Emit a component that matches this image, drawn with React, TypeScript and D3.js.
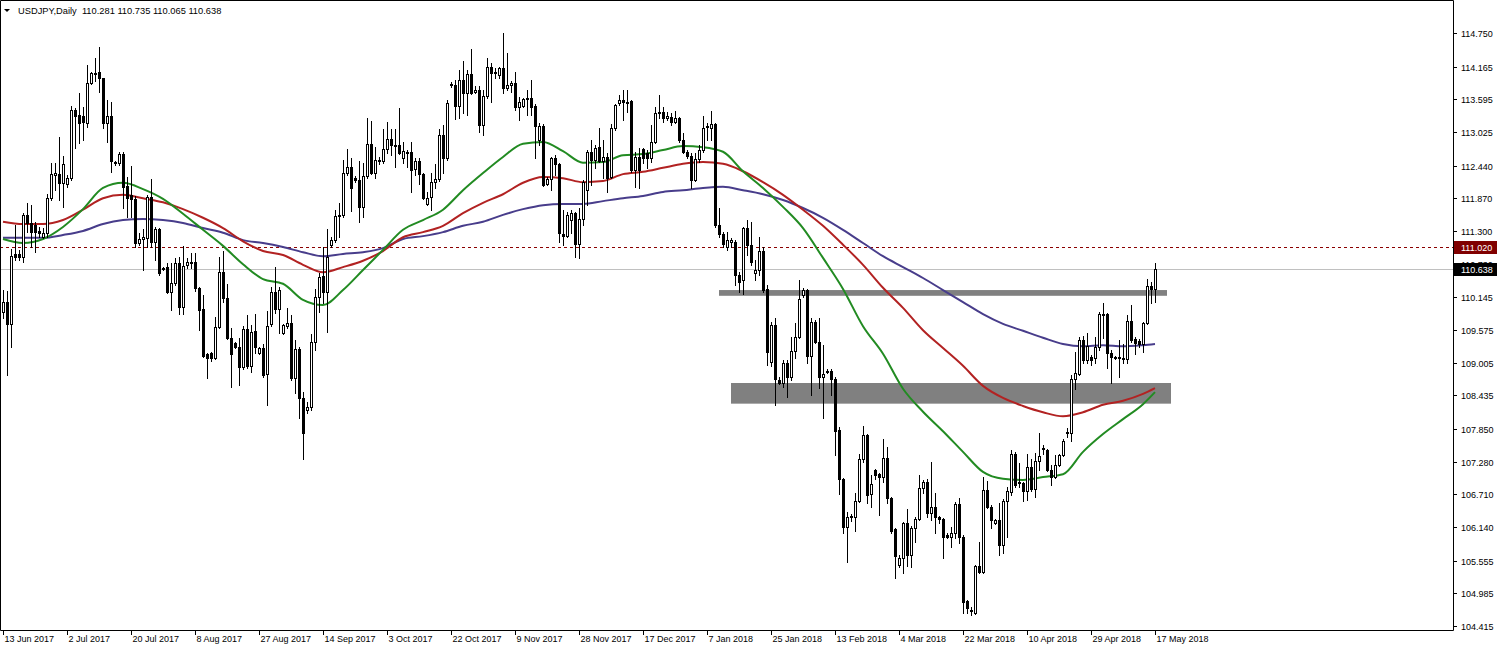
import React from "react";
import * as d3 from "d3";

// ---- data (USDJPY daily) ----
const OPEN = [
  109.89,110.06,109.68,110.90,110.90,110.85,111.58,111.44,111.40,111.30,
  111.20,111.27,111.87,112.28,112.29,112.14,112.12,112.22,113.41,113.32,
  113.30,113.18,113.88,114.05,114.07,113.97,113.18,113.30,112.49,112.49,
  112.64,112.08,111.93,111.86,111.09,111.16,111.18,111.89,111.11,111.33,
  110.65,110.67,110.24,110.39,110.74,109.97,110.71,110.76,110.76,110.31,
  109.94,109.16,109.17,109.09,109.63,110.59,110.13,109.43,109.35,109.28,
  108.93,109.59,108.94,109.56,109.17,109.26,108.81,109.68,110.24,109.94,
  109.52,109.64,109.70,108.74,109.24,108.39,108.18,108.23,109.37,110.15,
  110.52,110.24,111.06,111.14,111.56,111.58,112.31,112.42,112.22,112.19,
  111.72,112.26,112.82,112.31,112.52,112.52,112.73,112.90,112.80,112.80,
  112.57,112.68,112.68,112.38,112.52,112.29,111.77,111.89,112.15,112.21,
  112.97,112.57,113.84,113.84,113.48,113.93,113.70,114.04,113.72,113.76,
  113.15,113.65,114.16,114.07,114.02,114.14,113.79,113.84,113.88,113.46,
  113.48,113.62,113.62,113.48,112.89,113.13,112.12,112.21,112.57,112.47,
  111.25,111.21,111.49,111.61,111.07,111.51,112.01,112.68,112.54,112.76,
  112.52,112.59,112.24,113.09,113.53,113.58,113.55,113.56,112.36,112.59,
  112.73,112.66,112.57,112.85,113.36,113.37,113.27,113.29,113.20,113.27,
  112.89,112.68,112.61,112.19,112.55,112.71,113.11,113.09,113.16,111.40,
  111.25,111.02,111.11,111.11,110.53,110.45,111.35,111.06,110.57,110.62,
  110.95,110.29,109.02,109.66,108.70,108.65,109.00,108.75,109.21,109.45,
  110.18,110.27,109.12,109.71,109.37,108.75,108.86,108.86,108.72,107.83,
  106.98,106.14,106.32,106.32,106.59,107.33,107.74,106.71,107.13,107.06,
  107.01,107.34,106.65,106.11,105.48,105.60,106.21,105.65,106.12,106.28,
  106.82,106.93,106.39,106.49,106.32,106.28,106.00,105.97,106.04,106.54,
  105.97,104.85,104.70,104.64,105.46,105.36,106.79,106.49,106.21,106.26,
  105.83,106.59,106.75,107.41,106.93,106.91,106.77,107.19,106.80,107.29,
  107.50,107.48,107.13,107.01,107.22,107.40,107.78,107.78,108.72,108.81,
  109.40,109.05,109.10,109.09,109.28,109.85,109.85,109.17,109.10,109.10,
  109.09,109.07,109.73,109.42,109.38,109.33,109.70,110.34,110.281,
];
const HIGH = [
  110.27,110.25,110.99,111.40,110.97,111.61,111.79,111.75,111.46,111.37,
  111.35,111.94,112.49,112.49,112.94,112.61,112.28,113.48,113.44,113.70,
  113.46,114.19,114.07,114.31,114.51,113.97,113.58,113.55,112.52,112.68,
  112.68,112.24,112.43,111.91,111.27,111.33,111.93,112.21,111.37,111.35,
  110.67,110.74,110.74,110.83,110.85,111.04,110.83,110.92,110.92,110.32,
  110.18,109.18,109.19,109.80,110.85,110.95,110.38,109.61,109.37,109.43,
  109.64,109.84,109.66,109.85,109.28,109.33,109.91,110.32,110.67,110.32,
  109.68,109.96,109.84,109.40,109.28,108.49,108.32,109.50,110.29,110.57,
  111.02,111.33,111.19,111.67,111.79,112.54,112.73,112.57,112.26,112.52,
  112.49,113.27,113.22,112.76,112.59,113.08,113.20,113.08,113.08,113.44,
  112.85,112.71,112.85,112.57,112.57,112.31,111.98,112.31,112.47,113.08,
  113.15,113.58,113.90,113.93,114.11,114.26,114.11,114.47,113.83,113.83,
  113.76,114.31,114.23,114.14,114.16,114.75,114.40,113.91,114.07,113.63,
  113.62,113.76,113.93,113.51,113.18,113.16,112.24,112.59,112.62,112.49,
  111.67,111.63,111.67,111.63,111.70,112.19,112.71,112.89,112.80,113.09,
  112.89,112.66,113.16,113.51,113.67,113.76,113.76,113.58,112.68,112.75,
  112.75,112.71,113.15,113.46,113.67,113.46,113.37,113.36,113.39,113.29,
  113.01,112.71,112.66,112.66,112.80,113.30,113.18,113.39,113.18,111.70,
  111.28,111.28,111.18,111.14,110.59,111.37,111.49,111.46,110.79,111.19,
  111.02,110.36,109.71,109.78,108.75,109.05,109.05,109.45,109.70,110.45,
  110.31,110.29,109.78,109.75,109.78,109.31,108.89,108.89,108.75,107.88,
  107.00,106.40,106.37,106.73,107.41,107.90,107.76,107.05,107.15,107.08,
  107.67,107.53,106.67,106.13,105.65,106.23,106.46,106.16,106.32,107.05,
  106.96,106.98,107.27,106.73,106.33,106.30,106.04,106.14,106.58,106.65,
  106.00,104.87,104.75,105.48,105.88,107.01,106.94,106.52,106.28,106.56,
  106.63,106.84,107.48,107.45,107.26,106.93,107.41,107.33,107.43,107.78,
  107.57,107.50,107.22,107.40,107.41,107.67,107.87,108.79,109.19,109.45,
  109.47,109.52,109.14,109.45,109.89,110.04,109.87,109.23,109.12,109.40,
  109.33,109.84,110.01,109.45,109.42,109.71,110.46,110.41,110.735,
];
const LOW = [
  109.78,108.79,109.28,110.79,110.79,110.76,111.28,111.02,110.93,111.20,
  111.18,111.20,111.84,112.01,111.84,111.72,112.07,112.19,112.75,112.83,
  112.89,113.11,113.86,113.91,113.72,113.10,112.85,112.33,112.45,112.45,
  111.70,111.54,111.54,111.02,111.06,110.62,111.02,111.02,110.79,110.53,
  110.62,110.22,109.92,110.36,109.85,109.85,110.65,110.65,110.25,109.57,
  109.10,108.74,109.03,109.07,109.61,110.06,109.42,108.58,109.26,108.62,
  108.89,108.91,108.84,109.17,109.15,108.75,108.27,109.64,109.87,109.52,
  109.50,109.61,108.70,108.48,108.04,107.33,108.13,108.18,109.23,109.89,
  110.04,109.54,111.02,111.11,111.19,111.54,112.28,111.65,112.15,111.46,
  111.54,112.22,112.29,112.22,112.47,112.49,112.66,112.62,112.42,112.64,
  112.49,112.42,111.98,112.28,112.12,111.85,111.75,111.67,112.05,112.17,
  112.31,112.54,113.81,113.25,113.27,113.36,113.32,113.69,113.70,113.03,
  112.97,113.62,113.55,113.97,113.97,113.70,113.76,113.72,113.41,113.23,
  113.46,113.32,113.32,112.57,112.80,112.08,112.10,112.01,112.28,111.11,
  111.06,111.19,111.27,110.85,110.83,111.40,111.75,112.10,112.40,112.50,
  112.22,111.98,112.22,113.06,113.49,113.23,113.37,112.33,112.07,112.05,
  112.49,112.40,112.50,112.83,113.27,113.20,113.23,113.15,113.18,112.85,
  112.66,112.57,112.05,112.17,112.50,112.68,112.89,112.89,111.37,111.20,
  111.02,110.97,111.02,110.36,110.24,110.20,110.88,110.71,110.45,110.53,
  110.24,108.96,108.95,108.27,108.63,108.58,108.41,108.70,109.09,109.43,
  110.15,109.00,108.44,109.35,108.56,108.04,108.82,108.44,107.40,106.72,
  106.04,105.53,106.25,106.07,106.58,107.27,106.56,106.49,106.98,106.35,
  106.92,106.56,106.04,105.25,105.44,105.34,105.46,105.44,105.88,106.26,
  106.73,106.32,106.26,106.04,106.21,105.60,105.95,105.79,105.95,105.86,
  104.64,104.64,104.61,104.62,105.34,105.34,106.47,106.12,106.19,105.65,
  105.69,105.97,106.70,106.84,106.84,106.59,106.61,106.77,106.66,107.13,
  107.41,107.12,106.87,106.99,107.20,107.38,107.71,107.64,108.55,108.79,
  109.00,109.00,108.96,109.00,109.23,109.43,108.91,108.65,109.07,108.75,
  109.00,109.00,109.37,109.16,109.28,109.19,109.68,110.04,110.065,
];
const CLOSE = [
  110.06,109.68,110.86,110.85,110.85,111.58,111.44,111.28,111.28,111.27,
  111.27,111.87,112.29,112.31,112.14,112.47,112.22,113.41,113.30,113.18,
  113.20,113.88,114.05,114.04,113.97,113.18,113.30,112.52,112.50,112.64,
  112.07,111.87,111.86,111.09,111.16,111.19,111.89,111.11,111.33,110.57,
  110.64,110.24,110.39,110.74,109.97,110.69,110.76,110.74,110.31,109.92,
  109.12,109.09,109.09,109.63,110.59,110.13,109.43,109.16,109.28,108.93,
  109.59,108.94,109.54,109.28,109.26,108.79,109.64,110.24,109.94,110.27,
  109.66,109.70,108.74,109.24,108.39,107.78,108.23,109.37,110.15,110.50,
  110.24,110.85,111.14,111.56,111.58,112.31,112.42,112.05,112.19,111.72,
  112.26,112.82,112.31,112.54,112.54,112.73,112.90,112.80,112.78,112.66,
  112.69,112.66,112.36,112.52,112.29,111.87,111.87,112.15,112.21,112.97,
  112.57,113.53,113.86,113.48,113.93,113.70,114.04,113.70,113.76,113.15,
  113.65,114.16,114.05,114.05,114.14,113.79,113.84,113.88,113.46,113.55,
  113.60,113.60,113.46,113.13,113.13,112.10,112.21,112.57,112.47,111.27,
  111.21,111.58,111.61,111.07,111.51,112.15,112.68,112.54,112.75,112.52,
  112.59,112.22,113.09,113.49,113.58,113.55,113.53,112.36,112.59,112.36,
  112.57,112.57,112.85,113.36,113.37,113.27,113.30,113.20,113.27,112.89,
  112.68,112.61,112.19,112.55,112.71,113.09,113.13,113.16,111.40,111.25,
  111.07,111.14,111.14,110.53,110.41,111.35,111.06,110.76,110.62,110.95,
  110.27,109.19,109.66,108.72,108.65,109.00,108.75,109.21,109.45,110.11,
  110.27,109.12,109.71,109.37,108.75,108.81,108.84,108.72,107.81,106.98,
  106.14,106.32,106.33,106.59,107.33,107.74,106.70,106.89,107.05,107.01,
  107.34,106.65,106.07,105.64,105.60,106.21,105.65,106.12,106.28,106.82,
  106.93,106.39,106.49,106.32,106.28,105.97,105.97,106.04,106.54,105.97,
  104.83,104.73,104.68,105.46,105.36,106.79,106.49,106.26,106.26,105.83,
  106.59,106.77,107.41,106.87,106.91,106.77,107.19,106.80,107.29,107.38,
  107.52,107.13,107.01,107.22,107.40,107.64,107.80,108.72,108.82,109.40,
  109.05,109.30,109.05,109.28,109.85,109.84,109.17,109.10,109.09,109.09,
  109.07,109.73,109.40,109.35,109.33,109.70,110.34,110.29,110.638,
];

// moving averages, read every 5 bars (bar 0,5,...,285) plus the last bar 288
const MA_FAST = [
  111.16,111.09,111.16,111.37,111.68,112.05,112.14,112.03,111.86,111.60,
  111.32,111.04,110.72,110.46,110.38,110.10,110.01,110.27,110.62,110.97,
  111.32,111.49,111.67,112.01,112.31,112.59,112.82,112.85,112.69,112.49,
  112.50,112.62,112.64,112.71,112.78,112.76,112.68,112.34,112.05,111.72,
  111.35,110.83,110.29,109.64,109.16,108.55,108.15,107.81,107.45,107.10,
  106.98,106.96,107.01,107.06,107.45,107.76,108.02,108.28,108.49,
];
const MA_MID = [
  111.46,111.42,111.42,111.49,111.67,111.87,111.93,111.87,111.80,111.68,
  111.53,111.35,111.12,110.95,110.88,110.71,110.58,110.67,110.78,110.95,
  111.19,111.28,111.39,111.61,111.79,111.94,112.14,112.24,112.22,112.15,
  112.17,112.29,112.33,112.40,112.47,112.50,112.47,112.34,112.15,111.93,
  111.67,111.39,111.06,110.71,110.31,109.96,109.57,109.26,108.95,108.60,
  108.39,108.25,108.14,108.07,108.14,108.27,108.34,108.46,108.56,
];
const MA_SLOW = [
  111.18,111.18,111.18,111.23,111.30,111.42,111.49,111.51,111.49,111.44,
  111.35,111.27,111.14,111.09,111.02,110.93,110.86,110.90,110.93,111.00,
  111.16,111.21,111.28,111.39,111.46,111.58,111.68,111.75,111.77,111.77,
  111.82,111.87,111.91,111.98,112.01,112.05,112.07,112.01,111.94,111.84,
  111.70,111.53,111.32,111.09,110.86,110.67,110.48,110.27,110.06,109.85,
  109.68,109.56,109.44,109.33,109.29,109.31,109.29,109.31,109.33,
];
const MA_BARS = [...d3.range(0, 286, 5), 288];

const PRICE_TICKS = [
  114.75, 114.165, 113.595, 113.025, 112.44, 111.87, 111.3, 110.73, 110.145,
  109.575, 109.005, 108.435, 107.85, 107.28, 106.71, 106.14, 105.555, 104.985, 104.415,
];
const DATE_LABELS = [
  "13 Jun 2017", "2 Jul 2017", "20 Jul 2017", "8 Aug 2017", "27 Aug 2017",
  "14 Sep 2017", "3 Oct 2017", "22 Oct 2017", "9 Nov 2017", "28 Nov 2017",
  "17 Dec 2017", "7 Jan 2018", "25 Jan 2018", "13 Feb 2018", "4 Mar 2018",
  "22 Mar 2018", "10 Apr 2018", "29 Apr 2018", "17 May 2018",
];
const DATE_STEP = 16; // bars between date labels

const ZONE_FROM = [179, 182];
const ZONE_TO = [291, 292];
const ZONE_HI = [110.27, 108.65];
const ZONE_LO = [110.17, 108.29];

const LEVEL_DASHED = 111.02;
const LAST_PRICE = CLOSE[CLOSE.length - 1];

const FONT = "'Liberation Sans', Arial, sans-serif";

export default function App() {
  const W = 1497;
  const H = 650;
  const plotR = 1453;
  const plotB = 630;
  const n = CLOSE.length;

  const x = d3.scaleLinear().domain([0, n - 1]).range([3, 1155]);
  const y = d3.scaleLinear().domain([104.415, 114.75]).range([626, 33]);

  const maLine = (vals: number[]) =>
    d3
      .line<number>()
      .x((_, k) => x(MA_BARS[k]))
      .y((v) => y(v))
      .curve(d3.curveMonotoneX)(vals) || "";

  const candles = CLOSE.map((c, i) => {
    const o = OPEN[i];
    const cx = Math.round(x(i));
    const hi = Math.max(HIGH[i], o, c);
    const lo = Math.min(LOW[i], o, c);
    const yh = Math.round(y(hi));
    const yl = Math.round(y(lo));
    const yt = Math.round(y(Math.max(o, c)));
    const yb = Math.round(y(Math.min(o, c)));
    const bull = c > o;
    return (
      <g key={i}>
        <line x1={cx + 0.5} x2={cx + 0.5} y1={yh} y2={yl + 1} stroke="#000" strokeWidth={1} />
        {bull && yb - yt >= 2 ? (
          <rect x={cx - 0.5} y={yt + 0.5} width={2} height={yb - yt} fill="#fff" stroke="#000" strokeWidth={1} />
        ) : (
          <rect x={cx - 1} y={yt} width={3} height={Math.max(1, yb - yt + 1)} fill="#000" />
        )}
      </g>
    );
  });

  const title = `USDJPY,Daily  ${OPEN[n - 1].toFixed(3)} ${HIGH[n - 1].toFixed(3)} ${LOW[n - 1].toFixed(3)} ${CLOSE[n - 1].toFixed(3)}`;

  const yDash = Math.round(y(LEVEL_DASHED)) + 0.5;
  const yLast = Math.round(y(LAST_PRICE)) + 0.5;

  return (
    <div style={{ position: "absolute", left: 0, top: 0 }}>
      <svg width={W} height={H} style={{ display: "block", background: "#fff" }}>
        <defs>
          <clipPath id="plot">
            <rect x={0} y={0} width={plotR} height={plotB} />
          </clipPath>
        </defs>
        <rect x={0} y={0} width={W} height={H} fill="#fff" />

        <g clipPath="url(#plot)">
          {/* horizontal levels */}
          <line x1={0} x2={plotR} y1={yDash} y2={yDash} stroke="#8b0000" strokeWidth={1} strokeDasharray="3,3" />
          <line x1={0} x2={plotR} y1={yLast} y2={yLast} stroke="#c0c0c0" strokeWidth={1} />

          {/* zones */}
          {ZONE_FROM.map((f, k) => (
            <rect
              key={k}
              x={x(f)}
              y={y(ZONE_HI[k])}
              width={x(ZONE_TO[k]) - x(f)}
              height={y(ZONE_LO[k]) - y(ZONE_HI[k])}
              fill="#808080"
            />
          ))}

          {/* moving averages */}
          <path d={maLine(MA_SLOW)} fill="none" stroke="#483d8b" strokeWidth={2} />
          <path d={maLine(MA_MID)} fill="none" stroke="#b22222" strokeWidth={2} />
          <path d={maLine(MA_FAST)} fill="none" stroke="#228b22" strokeWidth={2} />

          {candles}
        </g>

        {/* frame */}
        <path d={`M0.5,${plotB + 0.5} V0.5 H${plotR + 0.5} V${plotB + 0.5} H0.5`} fill="none" stroke="#000" strokeWidth={1} />

        {/* title */}
        <path d="M4,9 L10,9 L7,12 Z" fill="#000" />
        <text x={18} y={11} fontSize={9.3} fontFamily={FONT} fill="#000" dominantBaseline="central" style={{ whiteSpace: "pre" }}>
          {title}
        </text>

        {/* price axis */}
        {PRICE_TICKS.map((p) => {
          const yy = Math.round(y(p)) + 0.5;
          return (
            <g key={p}>
              <line x1={plotR} x2={plotR + 4} y1={yy} y2={yy} stroke="#000" />
              <text x={1461} y={yy} fontSize={9} fontFamily={FONT} fill="#000" dominantBaseline="central">
                {p.toFixed(3)}
              </text>
            </g>
          );
        })}

        {/* price boxes */}
        <rect x={plotR + 1} y={yDash - 6.5} width={W - plotR - 1} height={13} fill="#800000" />
        <text x={1461} y={yDash} fontSize={9} fontFamily={FONT} fill="#fff" dominantBaseline="central">
          {LEVEL_DASHED.toFixed(3)}
        </text>
        <rect x={plotR + 1} y={yLast - 6.5} width={W - plotR - 1} height={13} fill="#000" />
        <text x={1461} y={yLast} fontSize={9} fontFamily={FONT} fill="#fff" dominantBaseline="central">
          {LAST_PRICE.toFixed(3)}
        </text>

        {/* date axis */}
        {DATE_LABELS.map((lab, k) => {
          const xx = Math.round(x(k * DATE_STEP)) + 0.5;
          return (
            <g key={lab}>
              <line x1={xx} x2={xx} y1={plotB} y2={plotB + 5} stroke="#000" />
              <text x={xx + 1} y={639} fontSize={9} fontFamily={FONT} fill="#000" dominantBaseline="central">
                {lab}
              </text>
            </g>
          );
        })}
      </svg>
    </div>
  );
}
